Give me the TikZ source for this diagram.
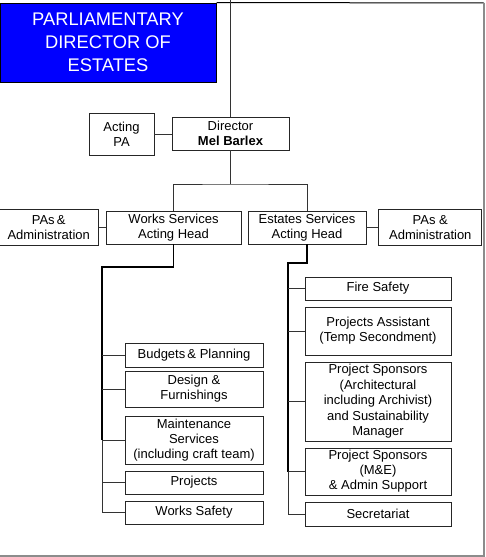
\documentclass[tikz,border=0pt]{standalone}
\usepackage{fontspec}
\setmainfont{Liberation Sans}
\usetikzlibrary{positioning}
\tikzset{
box/.style={draw=black!85,line width=0.8pt,inner sep=0pt,align=center,font=\fontsize{13}{15}\selectfont},
link/.style={draw=black!80,line width=0.8pt},
trunk/.style={draw=black,line width=1.7pt},
frameline/.style={draw=black!45,line width=1.2pt}
}

\begin{document}
\begin{tikzpicture}[x=1pt,y=-1pt]
\useasboundingbox (0,0) rectangle (485,557);
\node[box,fill=blue,draw=black,line width=1pt,text=white,minimum width=216pt,minimum height=79pt,font=\fontsize{18.3}{23}\selectfont] (title) at (108,42.5) {PARLIAMENTARY\\DIRECTOR OF\\ESTATES};
\draw[black,line width=1pt] (title.north east) -- (484,3);
\draw[frameline] (484,3) -- (484,556) -- (0,556);

\node[box,minimum width=65pt,minimum height=42pt] (actpa) at (121.5,134) {Acting\\PA};
\node[box,minimum width=117pt,minimum height=33pt] (director) at (230.5,133.5) {Director\\\textbf{Mel Barlex}};

\node[box,minimum width=135pt,minimum height=33pt] (works) at (173.5,227.5) {Works Services\\Acting Head};
\node[box,minimum width=118pt,minimum height=33pt] (estates) at (307,227.5) {Estates Services\\Acting Head};
\node[box,minimum width=99pt,minimum height=36pt,left=7pt of works] (pasl) {PAs\,\&\\Administration};
\node[box,minimum width=103pt,minimum height=36pt,right=12pt of estates] (pasr) {PAs \&\\Administration};

\node[box,minimum width=138pt,minimum height=24pt] (budgets) at (194,355) {Budgets\,\& Planning};
\node[box,minimum width=138pt,minimum height=36pt] (design) at (194,389) {Design \&\\Furnishings};
\node[box,minimum width=138pt,minimum height=48pt] (maint) at (194,440) {Maintenance\\Services\\(including craft team)};
\node[box,minimum width=138pt,minimum height=23pt] (projects) at (194,482.5) {Projects};
\node[box,minimum width=138pt,minimum height=23pt] (wsafety) at (194,512.5) {Works Safety};

\node[box,minimum width=146pt,minimum height=23pt] (fire) at (378,288.5) {Fire Safety};
\node[box,minimum width=146pt,minimum height=48pt] (passist) at (378,331) {Projects Assistant\\(Temp Secondment)};
\node[box,minimum width=146pt,minimum height=79pt,font=\fontsize{13}{15.5}\selectfont] (psarch) at (378,401.5) {Project Sponsors\\(Architectural\\including Archivist)\\and Sustainability\\Manager};
\node[box,minimum width=146pt,minimum height=47pt] (psme) at (378,471.5) {Project Sponsors\\(M\&E)\\\& Admin Support};
\node[box,minimum width=146pt,minimum height=24pt] (secret) at (378,514) {Secretariat};

\coordinate (top) at (230.5,0);
\coordinate (bus) at (230.5,184);
\coordinate (wcorner) at (102,267);
\coordinate (ecorner) at (288,263);

\draw[link] (top) -- (director.north);
\draw[link] (actpa.east) -- (actpa.east -| director.west);
\draw[link] (director.south) -- (bus);
\draw[link] (works.north) |- (bus) -| (estates.north);
\draw[link] (pasl.east) -- (pasl.east -| works.west);
\draw[link] (estates.east) -- (estates.east -| pasr.west);

\draw[trunk] (works.south) |- (wcorner) -- (wcorner |- maint.west);
\draw[link] (wcorner |- maint.west) |- (wsafety.west);
\foreach \b in {budgets,design,maint,projects}
  \draw[link] (\b.west) -- (\b.west -| wcorner);

\draw[trunk] (estates.south) |- (ecorner) -- (ecorner |- psme.west);
\draw[link] (ecorner |- psme.west) |- (secret.west);
\foreach \b in {fire,passist,psarch,psme}
  \draw[link] (\b.west) -- (\b.west -| ecorner);
\end{tikzpicture}
\end{document}
